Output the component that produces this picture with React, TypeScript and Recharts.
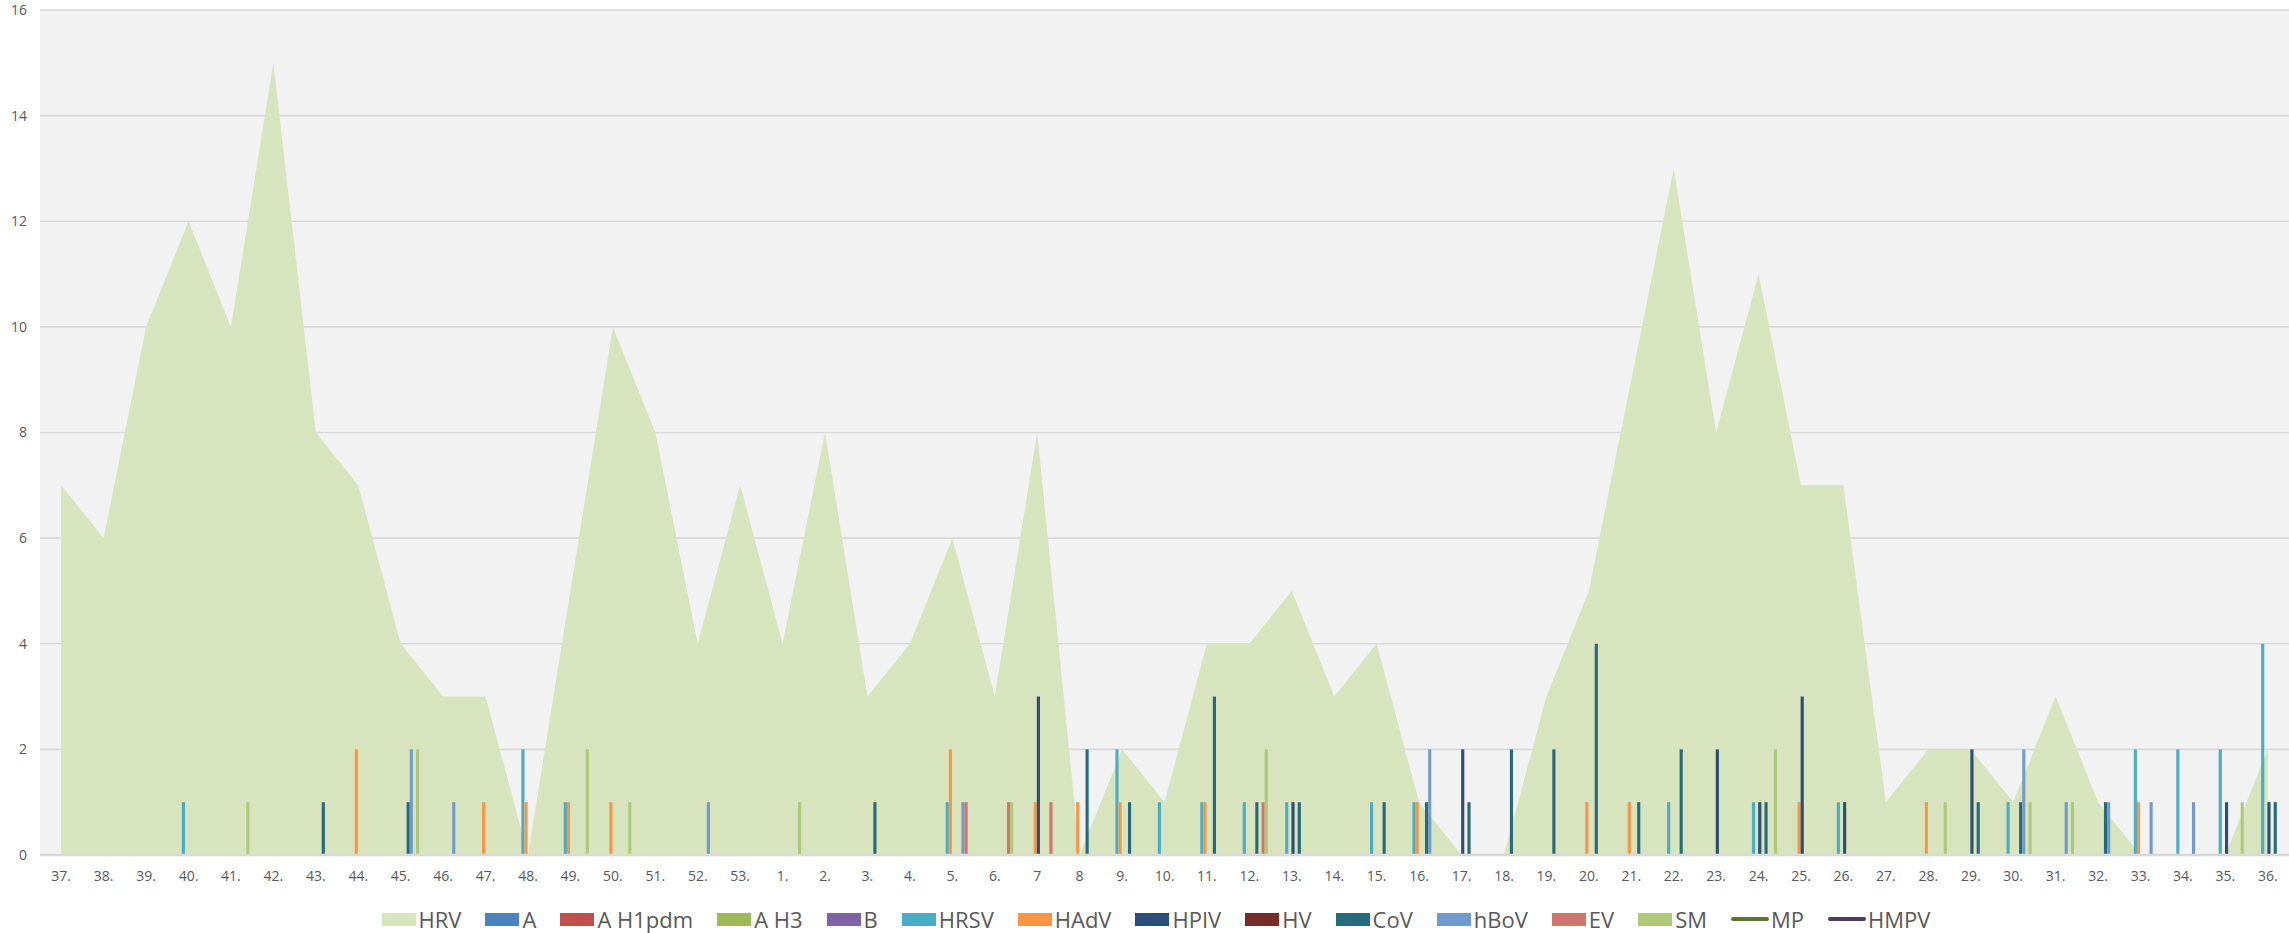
import React from "react";
import { ComposedChart, Area, Bar, Line, XAxis, YAxis, CartesianGrid, Legend } from "recharts";

// Week labels (season week 37 .. 53, then 1 .. 36)
const weeks = [
  "37.", "38.", "39.", "40.", "41.", "42.", "43.", "44.", "45.", "46.", "47.", "48.", "49.", "50.", "51.", "52.", "53.",
  "1.", "2.", "3.", "4.", "5.", "6.", "7", "8", "9.", "10.", "11.", "12.", "13.", "14.", "15.", "16.", "17.", "18.",
  "19.", "20.", "21.", "22.", "23.", "24.", "25.", "26.", "27.", "28.", "29.", "30.", "31.", "32.", "33.", "34.", "35.", "36.",
];

const yTicks = [0, 2, 4, 6, 8, 10, 12, 14, 16];

// HRV (area)
const HRV = [
  7, 6, 10, 12, 10, 15, 8, 7, 4, 3, 3, 0, 5, 10, 8, 4, 7,
  4, 8, 3, 4, 6, 3, 8, 0, 2, 1, 4, 4, 5, 3, 4, 1, 0, 0,
  3, 5, 9, 13, 8, 11, 7, 7, 1, 2, 2, 1, 3, 1, 0, 0, 0, 2,
];

// Bar series (no detections for A, A H1pdm, A H3, B, HV)
const A: number[] = [];
const AH1pdm: number[] = [];
const AH3: number[] = [];
const B: number[] = [];
const HV: number[] = [];

const HRSV = [
  0, 0, 0, 1, 0, 0, 0, 0, 0, 0,
  0, 2, 1, 0, 0, 0, 0, 0, 0, 0,
  0, 1, 0, 0, 0, 2, 1, 1, 1, 1,
  0, 1, 1, 0, 0, 0, 0, 0, 1, 0,
  1, 0, 1, 0, 0, 0, 1, 0, 0, 2,
  2, 2, 4,
];

const HAdV = [
  0, 0, 0, 0, 0, 0, 0, 2, 0, 0,
  1, 1, 1, 1, 0, 0, 0, 0, 0, 0,
  0, 2, 0, 1, 1, 1, 0, 1, 0, 0,
  0, 0, 1, 0, 0, 0, 1, 1, 0, 0,
  0, 1, 0, 0, 1, 0, 0, 0, 0, 1,
  0, 0, 0,
];

const HPIV = [
  0, 0, 0, 0, 0, 0, 0, 0, 0, 0,
  0, 0, 0, 0, 0, 0, 0, 0, 0, 0,
  0, 0, 0, 3, 0, 0, 0, 0, 0, 1,
  0, 0, 0, 2, 0, 0, 0, 0, 0, 2,
  1, 3, 1, 0, 0, 2, 0, 0, 0, 0,
  0, 1, 1,
];

const CoV = [
  0, 0, 0, 0, 0, 0, 1, 0, 1, 0,
  0, 0, 0, 0, 0, 0, 0, 0, 0, 1,
  0, 0, 0, 0, 2, 1, 0, 3, 1, 1,
  0, 1, 1, 1, 2, 2, 4, 1, 2, 0,
  1, 0, 0, 0, 0, 1, 1, 0, 1, 0,
  0, 0, 1,
];

const hBoV = [
  0, 0, 0, 0, 0, 0, 0, 0, 2, 1,
  0, 0, 0, 0, 0, 1, 0, 0, 0, 0,
  0, 1, 0, 0, 0, 0, 0, 0, 0, 0,
  0, 0, 2, 0, 0, 0, 0, 0, 0, 0,
  0, 0, 0, 0, 0, 0, 2, 1, 1, 1,
  1, 0, 0,
];

const EV = [
  0, 0, 0, 0, 0, 0, 0, 0, 0, 0,
  0, 0, 0, 0, 0, 0, 0, 0, 0, 0,
  0, 1, 1, 1, 0, 0, 0, 0, 1, 0,
  0, 0, 0, 0, 0, 0, 0, 0, 0, 0,
  0, 0, 0, 0, 0, 0, 0, 0, 0, 0,
  0, 0, 0,
];

const SM = [
  0, 0, 0, 0, 1, 0, 0, 0, 2, 0,
  0, 0, 2, 1, 0, 0, 0, 1, 0, 0,
  0, 0, 1, 0, 0, 0, 0, 0, 2, 0,
  0, 0, 0, 0, 0, 0, 0, 0, 0, 0,
  2, 0, 0, 0, 1, 0, 1, 1, 0, 0,
  0, 1, 0,
];

// Line series (no data shown)
const MP: (number | null)[] = [];
const HMPV: (number | null)[] = [];

const barSeries: { key: string; values: number[]; color: string }[] = [
  { key: "A", values: A, color: "#4F81BD" },
  { key: "A H1pdm", values: AH1pdm, color: "#C0504D" },
  { key: "A H3", values: AH3, color: "#9BBB59" },
  { key: "B", values: B, color: "#8064A2" },
  { key: "HRSV", values: HRSV, color: "#4BACC6" },
  { key: "HAdV", values: HAdV, color: "#F79646" },
  { key: "HPIV", values: HPIV, color: "#2C4D75" },
  { key: "HV", values: HV, color: "#772C2A" },
  { key: "CoV", values: CoV, color: "#276A7C" },
  { key: "hBoV", values: hBoV, color: "#729ACA" },
  { key: "EV", values: EV, color: "#D07472" },
  { key: "SM", values: SM, color: "#AFC97A" },
];

const lineSeries: { key: string; values: (number | null)[]; color: string }[] = [
  { key: "MP", values: MP, color: "#5F7530" },
  { key: "HMPV", values: HMPV, color: "#4D3B62" },
];

const HRV_COLOR = "#D7E4BD";

const data = weeks.map((w, i) => {
  const row: Record<string, string | number | null> = { week: w, HRV: HRV[i] };
  barSeries.forEach((s) => {
    row[s.key] = s.values[i] ?? 0;
  });
  lineSeries.forEach((s) => {
    row[s.key] = s.values[i] ?? null;
  });
  return row;
});

const FONT = "'Open Sans', 'Liberation Sans', sans-serif";
const TEXT = "#595959";

const legendItems = [
  { key: "HRV", color: HRV_COLOR, kind: "box" },
  ...barSeries.map((s) => ({ key: s.key, color: s.color, kind: "box" })),
  ...lineSeries.map((s) => ({ key: s.key, color: s.color, kind: "line" })),
];

function LegendContent() {
  return (
    <div
      style={{
        height: 48,
        boxSizing: "border-box",
        paddingTop: 22,
        paddingLeft: 23,
        display: "flex",
        justifyContent: "center",
        fontFamily: FONT,
        fontSize: 22,
        color: TEXT,
      }}
    >
      {legendItems.map((it, idx) => (
        <div
          key={it.key}
          style={{
            display: "flex",
            alignItems: "center",
            height: 24,
            marginLeft: idx === 0 ? 0 : 24,
            whiteSpace: "nowrap",
          }}
        >
          {it.kind === "box" ? (
            <div style={{ width: 34, height: 13, background: it.color, marginRight: 3 }} />
          ) : (
            <div style={{ width: 38, height: 4, borderRadius: 2, background: it.color, marginRight: 2 }} />
          )}
          <span style={{ lineHeight: "24px" }}>{it.key}</span>
        </div>
      ))}
    </div>
  );
}

export default function App() {
  return (
    <div
      style={{
        position: "absolute",
        left: 0,
        top: 0,
        width: 2289,
        height: 933,
        background: "#FFFFFF",
        fontFamily: FONT,
      }}
    >
      <ComposedChart
        width={2289}
        height={933}
        data={data}
        margin={{ top: 10, right: 0, bottom: 0, left: 0 }}
        barGap={0}
        barSize={3.14}
      >
        <CartesianGrid vertical={false} stroke="#D9D9D9" strokeWidth={1.6} fill="#F2F2F2" />
        <XAxis
          dataKey="week"
          interval={0}
          height={30}
          tickLine={false}
          axisLine={{ stroke: "#D9D9D9", strokeWidth: 2.5 }}
          tickMargin={10}
          tick={{ fill: TEXT, fontSize: 14, fontFamily: FONT }}
        />
        <YAxis
          width={40}
          domain={[0, 16]}
          ticks={yTicks}
          interval={0}
          tickLine={false}
          axisLine={false}
          tickMargin={7}
          tick={{ fill: TEXT, fontSize: 14, fontFamily: FONT }}
        />
        <Area
          type="linear"
          dataKey="HRV"
          fill={HRV_COLOR}
          fillOpacity={1}
          stroke="none"
          dot={false}
          activeDot={false}
          isAnimationActive={false}
        />
        {barSeries.map((s) => (
          <Bar key={s.key} dataKey={s.key} fill={s.color} isAnimationActive={false} />
        ))}
        {lineSeries.map((s) => (
          <Line
            key={s.key}
            type="linear"
            dataKey={s.key}
            stroke={s.color}
            strokeWidth={3}
            dot={false}
            activeDot={false}
            connectNulls={false}
            isAnimationActive={false}
          />
        ))}
        <Legend verticalAlign="bottom" content={() => <LegendContent />} />
      </ComposedChart>
    </div>
  );
}
